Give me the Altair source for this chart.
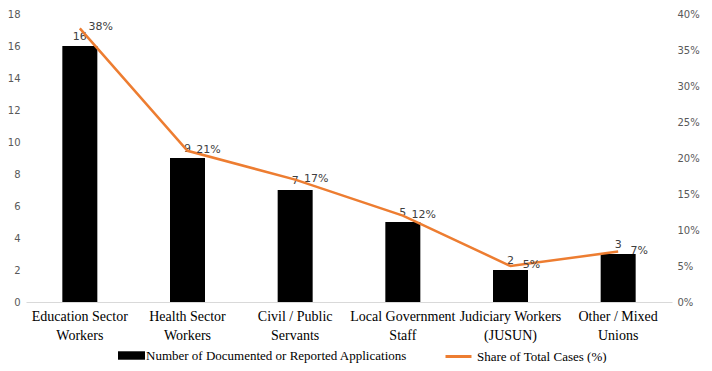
import altair as alt
import pandas as pd

categories = [
    "Education Sector\nWorkers",
    "Health Sector\nWorkers",
    "Civil / Public\nServants",
    "Local Government\nStaff",
    "Judiciary Workers\n(JUSUN)",
    "Other / Mixed\nUnions",
]
counts = [16, 9, 7, 5, 2, 3]
shares = [0.38, 0.21, 0.17, 0.12, 0.05, 0.07]
count_ticks = [0, 2, 4, 6, 8, 10, 12, 14, 16, 18]
share_ticks = [0, 0.05, 0.10, 0.15, 0.20, 0.25, 0.30, 0.35, 0.40]
bar_name = "Number of Documented or Reported Applications"
line_name = "Share of Total Cases (%)"

SERIF = "'Liberation Serif', 'Times New Roman', serif"
SANS = "'DejaVu Sans', Verdana, sans-serif"

df = pd.DataFrame({
    "category": categories,
    "count": counts,
    "share": shares,
    "bar_series": [bar_name] * len(categories),
    "line_series": [line_name] * len(categories),
})

x_axis = alt.Axis(
    labelAngle=0,
    labelExpr="split(datum.value, '\\n')",
    labelFont=SERIF,
    labelFontSize=14,
    labelColor="#000000",
    labelPadding=7,
    ticks=False,
    domain=True,
    domainColor="#D9D9D9",
    grid=False,
    labelLineHeight=19,
    labelOverlap=False,
)
x_enc = alt.X(
    "category:N",
    sort=categories,
    title=None,
    scale=alt.Scale(paddingInner=0.0, paddingOuter=0.0),
    axis=x_axis,
)

count_axis = alt.Axis(
    values=count_ticks,
    orient="left",
    grid=False,
    domain=False,
    ticks=False,
    labelFont=SANS,
    labelFontSize=10,
    labelColor="#595959",
    labelPadding=6,
    labelOverlap=False,
    labelFlush=False,
)
y_count = alt.Y(
    "count:Q", title=None,
    scale=alt.Scale(domain=[0, 18], nice=False),
    axis=count_axis,
)

share_axis = alt.Axis(
    values=share_ticks,
    orient="right",
    format=".0%",
    grid=False,
    domain=False,
    ticks=False,
    labelFont=SANS,
    labelFontSize=10,
    labelColor="#595959",
    labelPadding=5,
    labelOverlap=False,
    labelFlush=False,
)
y_share = alt.Y(
    "share:Q", title=None,
    scale=alt.Scale(domain=[0, 0.4], nice=False),
    axis=share_axis,
)

base = alt.Chart(df)

bars = base.mark_bar(color="black", size=35).encode(
    x=x_enc,
    y=y_count,
    fill=alt.Fill(
        "bar_series:N",
        scale=alt.Scale(domain=[bar_name], range=["black"]),
        legend=alt.Legend(
            title=None,
            orient="none",
            legendX=97,
            legendY=333,
            symbolType="M-1.6,-0.5H1.6V0.5H-1.6Z",
            symbolSize=285,
            symbolStrokeWidth=0,
            labelFont=SERIF,
            labelFontSize=13,
            labelColor="#000000",
            labelLimit=400,
            labelOffset=6,
        ),
    ),
)

bar_text = base.mark_text(
    baseline="bottom", dy=-4, font=SANS, fontSize=11, color="#404040"
).encode(
    x=x_enc,
    y=y_count,
    text=alt.Text("count:Q"),
)

line = base.mark_line(color="#ED7D31", strokeWidth=2.5).encode(
    x=x_enc,
    y=y_share,
    stroke=alt.Stroke(
        "line_series:N",
        scale=alt.Scale(domain=[line_name], range=["#ED7D31"]),
        legend=alt.Legend(
            title=None,
            orient="none",
            legendX=418,
            legendY=328,
            symbolType="stroke",
            symbolSize=676,
            symbolStrokeWidth=3,
            labelFont=SERIF,
            labelFontSize=13,
            labelColor="#000000",
            labelLimit=400,
            labelOffset=4,
        ),
    ),
)

line_text = base.mark_text(
    baseline="middle", align="center", dx=21, dy=-1,
    font=SANS, fontSize=11, color="#404040"
).encode(
    x=x_enc,
    y=y_share,
    text=alt.Text("share:Q", format=".0%"),
)

left = alt.layer(bars, bar_text)
right = alt.layer(line, line_text)

chart = alt.layer(left, right).resolve_scale(
    y="independent", fill="independent", stroke="independent"
).properties(
    width=646,
    height=288,
    autosize=alt.AutoSizeParams(type="none"),
    padding={"left": 18, "top": 6, "right": 32, "bottom": 61},
).configure_view(stroke=None).configure_axis(labelOverlap=False)

chart.save("out.html", embed_options={"renderer": "svg", "actions": False})
